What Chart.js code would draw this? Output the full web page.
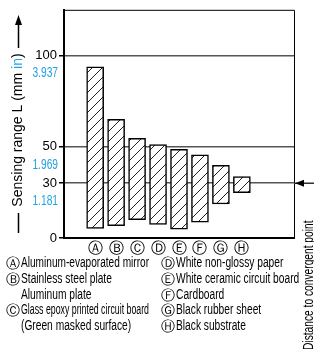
<!DOCTYPE html>
<html>
<head>
<meta charset="utf-8">
<script src="https://cdn.jsdelivr.net/npm/chart.js@4.4.1/dist/chart.umd.min.js"></script>
<style>
  html, body { margin: 0; padding: 0; background: #fff; }
  canvas { display: block; }
</style>
</head>
<body>
<canvas id="chart" width="314" height="349"></canvas>
<script>
// sensing ranges (mm) per target material
const letters = ['Ⓐ', 'Ⓑ', 'Ⓒ', 'Ⓓ', 'Ⓔ', 'Ⓕ', 'Ⓖ', 'Ⓗ']
const rangeMin = [5.3, 6.7, 10, 7.4, 4.9, 8.7, 18.6, 24.8]
const rangeMax = [93.7, 65, 54.6, 51.2, 48.6, 45.6, 39.8, 33.6]
const yTicks = [0, 30, 50, 100]
const yTicksInch = ['', '1.181', '1.969', '3.937']
const convergentPoint = 30
const legendLeft = [
    ['Ⓐ', 'Aluminum-evaporated mirror'],
    ['Ⓑ', 'Stainless steel plate'],
    ['', 'Aluminum plate'],
    ['Ⓒ', 'Glass epoxy printed circuit board'],
    ['', '(Green masked surface)']
]
const legendRight = [
    ['Ⓓ', 'White non-glossy paper'],
    ['Ⓔ', 'White ceramic circuit board'],
    ['Ⓕ', 'Cardboard'],
    ['Ⓖ', 'Black rubber sheet'],
    ['Ⓗ', 'Black substrate']
]

const SANS = "'Liberation Sans', Arial, sans-serif"
const CIRC = "'DejaVu Sans', sans-serif"
const BLUE = '#22a2e2'
const SQUEEZE = 0.73   // no narrow font installed, squeeze Liberation Sans

// text drawn narrow: x-scale around the anchor
function narrow(ctx, text, x, y, align, maxW) {
    ctx.save()
    ctx.translate(x, y)
    ctx.scale(SQUEEZE, 1)
    ctx.textAlign = align || 'left'
    if (maxW) ctx.fillText(text, 0, 0, maxW / SQUEEZE)
    else ctx.fillText(text, 0, 0)
    ctx.restore()
}

function hatch() {
    var c = document.createElement('canvas')
    var s = 10
    c.width = s; c.height = s
    var g = c.getContext('2d')
    g.fillStyle = '#fff'
    g.fillRect(0, 0, s, s)
    g.strokeStyle = '#222'
    g.lineWidth = 1
    g.beginPath()
    g.moveTo(-1, s + 1); g.lineTo(s + 1, -1)
    g.moveTo(-s / 2 - 1, s / 2 + 1); g.lineTo(s / 2 + 1, -s / 2 - 1)
    g.moveTo(s / 2 - 1, s * 1.5 + 1); g.lineTo(s * 1.5 + 1, s / 2 - 1)
    g.stroke()
    return g.createPattern(c, 'repeat')
}

const extras = {
    id: 'extras',
    afterDatasetsDraw(chart) {
        var ctx = chart.ctx
        var a = chart.chartArea
        var y = chart.scales.y
        ctx.save()

        // frame top / right
        ctx.strokeStyle = '#000'
        ctx.lineWidth = 1
        ctx.beginPath()
        ctx.moveTo(a.left, a.top + 0.5); ctx.lineTo(a.right + 0.5, a.top + 0.5)
        ctx.lineTo(a.right + 0.5, a.bottom)
        ctx.stroke()

        // convergent point arrow
        var cy = y.getPixelForValue(convergentPoint)
        ctx.strokeStyle = '#333'
        ctx.lineWidth = 1.5
        ctx.beginPath()
        ctx.moveTo(a.right, cy); ctx.lineTo(chart.width, cy)
        ctx.stroke()
        ctx.fillStyle = '#000'
        ctx.beginPath()
        ctx.moveTo(a.right + 1, cy); ctx.lineTo(a.right + 10, cy - 3.5); ctx.lineTo(a.right + 10, cy + 3.5)
        ctx.closePath(); ctx.fill()

        // inch labels
        ctx.font = '14px ' + SANS
        ctx.fillStyle = BLUE
        ctx.textBaseline = 'middle'
        yTicks.forEach((v, i) => {
            if (yTicksInch[i]) narrow(ctx, yTicksInch[i], 58, y.getPixelForValue(v) + 18, 'right')
        })

        // y title with arrow
        var parts = [['Sensing range L (mm ', '#000'], ['in', BLUE], [')', '#000']]
        ctx.font = '14px ' + SANS
        var total = parts.reduce((s, p) => s + ctx.measureText(p[0]).width, 0)
        ctx.save()
        ctx.translate(18, 130)
        ctx.rotate(-Math.PI / 2)
        ctx.textAlign = 'left'
        ctx.textBaseline = 'middle'
        var x = -total / 2
        parts.forEach(p => {
            ctx.fillStyle = p[1]
            ctx.fillText(p[0], x, 0)
            x += ctx.measureText(p[0]).width
        })
        ctx.restore()
        ctx.strokeStyle = '#000'
        ctx.lineWidth = 1.5
        ctx.beginPath()
        ctx.moveTo(18.5, 48); ctx.lineTo(18.5, 24)
        ctx.moveTo(18.5, 213); ctx.lineTo(18.5, 233)
        ctx.stroke()
        ctx.fillStyle = '#000'
        ctx.beginPath()
        ctx.moveTo(18.5, 15); ctx.lineTo(15, 25); ctx.lineTo(22, 25)
        ctx.closePath(); ctx.fill()

        // distance label
        ctx.save()
        ctx.translate(313, 350)
        ctx.rotate(-Math.PI / 2)
        ctx.font = '14px ' + SANS
        ctx.fillStyle = '#000'
        ctx.textBaseline = 'alphabetic'
        narrow(ctx, 'Distance to convergent point', 0, 0, 'left')
        ctx.restore()

        // legend, two columns
        var rows = [267, 283, 298.5, 314, 329.5]
        ctx.textBaseline = 'alphabetic'
        ctx.fillStyle = '#000'
        function col(list, lx, tx, maxW) {
            list.forEach((r, i) => {
                ctx.font = '14px ' + CIRC
                ctx.textAlign = 'left'
                if (r[0]) ctx.fillText(r[0], lx, rows[i] + 1)
                ctx.font = '14px ' + SANS
                narrow(ctx, r[1], tx, rows[i], 'left', maxW)
            })
        }
        col(legendLeft, 6, 21, 128)
        col(legendRight, 161, 176, 132)
        ctx.restore()
    }
}

new Chart(document.getElementById('chart'), {
    type: 'bar',
    data: {
        datasets: [{
            data: letters.map((l, i) => ({ x: i + 1, y: [rangeMin[i], rangeMax[i]] })),
            backgroundColor: hatch(),
            borderColor: '#000',
            borderWidth: 1.5,
            borderSkipped: false,
            barThickness: 17
        }]
    },
    options: {
        responsive: false,
        devicePixelRatio: 1,
        animation: false,
        layout: { padding: { top: 7, right: 20, left: 0, bottom: 0 } },
        plugins: { legend: { display: false }, tooltip: { enabled: false } },
        scales: {
            x: {
                type: 'linear',
                min: 0.2,
                max: 9.8,
                afterBuildTicks: s => { s.ticks = letters.map((l, i) => ({ value: i + 1 })) },
                afterFit: s => { s.height = 111 },
                grid: { display: false, drawTicks: false },
                border: { display: true, color: '#000', width: 2 },
                ticks: {
                    autoSkip: false,
                    maxRotation: 0,
                    padding: 2,
                    color: '#000',
                    font: { size: 15, family: CIRC },
                    callback: v => letters[v - 1]
                }
            },
            y: {
                min: 0,
                max: 125,
                afterBuildTicks: s => { s.ticks = yTicks.map(v => ({ value: v })) },
                afterFit: s => { s.width = 64 },
                grid: {
                    color: c => c.tick && c.tick.value === 0 ? 'rgba(0,0,0,0)' : '#555',
                    tickColor: '#000',
                    lineWidth: 1.5,
                    tickLength: 5
                },
                border: { display: true, color: '#000', width: 2 },
                ticks: {
                    padding: 2,
                    color: '#000',
                    font: { size: 13, family: SANS },
                    callback: v => String(v)
                }
            }
        }
    },
    plugins: [extras]
})
</script>
</body>
</html>
